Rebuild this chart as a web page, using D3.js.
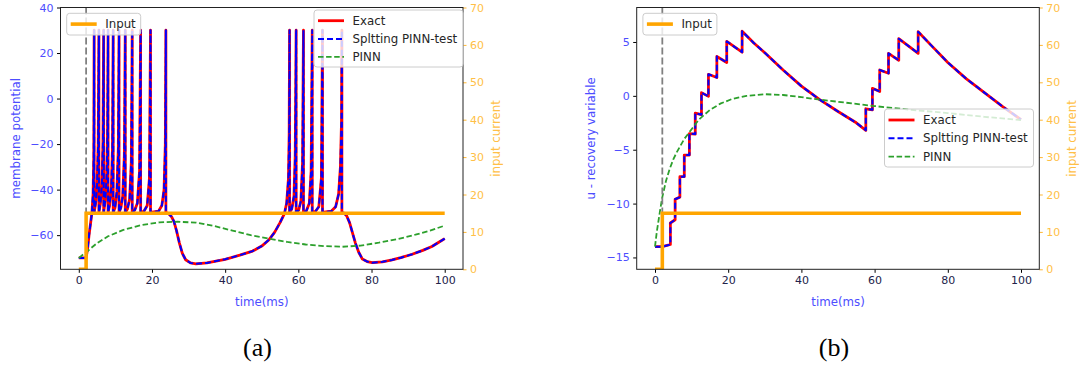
<!DOCTYPE html>
<html>
<head>
<meta charset="utf-8">
<script src="https://cdn.jsdelivr.net/npm/d3@7"></script>
<style>
  body { margin: 0; background: #fff; }
  svg { display: block; }
  text { font-family: "DejaVu Sans", sans-serif; }
</style>
</head>
<body>
<div id="chart"></div>
<script>
// ---- data ----
const xTicks = [0, 20, 40, 60, 80, 100];
const vTicks = [-60, -40, -20, 0, 20, 40];
const uTicks = [-15, -10, -5, 0, 5];
const iTicks = [0, 10, 20, 30, 40, 50, 60, 70];
const stimOnset = 2;
const inputCurrent = [[0, 0], [2, 0], [2, 15], [100, 15]];

// membrane potential, exact solution [t, v]
const vExact = [
  [0,-70],[2.0,-70],[2.4,-66],[2.8,-60],[3.2,-55],[3.6,-50],[3.9,-42],[4.1,-25],[4.2,30],[4.2,-50],
  [4.6,-46],[5.0,-38],[5.3,-20],[5.5,30],[5.5,-50],
  [5.9,-46],[6.3,-38],[6.6,-20],[6.8,30],[6.8,-50],
  [7.2,-45],[7.6,-35],[7.85,-15],[8.0,30],[8.0,-50],
  [8.4,-47],[8.9,-39],[9.2,-22],[9.4,30],[9.4,-50],
  [9.9,-48],[10.4,-41],[10.8,-22],[11.0,30],[11.0,-50],
  [11.5,-48],[12.0,-43],[12.45,-25],[12.7,30],[12.7,-50],
  [13.3,-48.5],[13.9,-44],[14.35,-28],[14.6,30],[14.6,-50],
  [15.3,-49],[16.0,-46],[16.6,-32],[16.9,30],[16.9,-50],
  [17.8,-49.5],[18.7,-47],[19.3,-35],[19.6,30],[19.6,-50],
  [20.5,-49.8],[21.8,-49.5],[22.7,-47],[23.3,-40],[23.65,-20],[23.8,30],[23.8,-50],
  [24.5,-50.5],[25.3,-51.8],[26.0,-54],[26.7,-58],[27.5,-63.5],[28.3,-68],[29.2,-70.8],[30.5,-72.2],
  [32,-72.6],[35,-72.2],[40,-70.6],[44,-68.8],[47.5,-67],[50,-64.8],[52,-62],[53.5,-58.8],[55,-54.5],[56.2,-50.5],
  [56.8,-46],[57.3,-35],[57.5,-15],[57.6,30],[57.6,-50],
  [58.2,-48.5],[58.8,-43],[59.15,-25],[59.4,30],[59.4,-50],
  [60.1,-49],[60.7,-45],[61.15,-28],[61.4,30],[61.4,-50],
  [62.2,-49.3],[63.0,-46],[63.5,-32],[63.8,30],[63.8,-50],
  [64.7,-49.5],[65.6,-47.5],[66.3,-35],[66.6,30],[66.6,-50],
  [67.5,-49.8],[69,-49.5],[70.2,-47.5],[71.0,-42],[71.5,-30],[71.8,-10],[71.9,30],[71.9,-50],
  [72.5,-50.3],[73.2,-51.5],[74.0,-54.5],[74.8,-59],[75.6,-63.5],[76.5,-67.5],[77.5,-70.5],[78.8,-71.6],
  [80.2,-72.1],[83,-71.7],[85.6,-70.9],[88,-69.9],[91.1,-68.4],[94,-66.7],[96.5,-65],[98.5,-63],[100,-61.5]
];
// splitting PINN prediction lies on top of the exact curve
const vSplit = vExact;
const vPinn = [
  [0,-70],[2,-67.5],[5,-63.5],[8,-60.5],[12,-57.8],[17,-55.6],[22,-54.4],[27,-54.1],[32,-54.5],
  [37,-56],[42,-58],[47,-60],[52,-61.5],[57,-63],[62,-64.1],[67,-64.8],[72,-65.1],[77,-64.6],
  [82,-63.3],[87,-61.8],[92,-59.8],[96,-58],[100,-55.8]
];

// recovery variable u [t, u]
const uExact = [
  [0,-14],[2,-14],[4.2,-13.8],[4.2,-11.8],[5.5,-11.5],[5.5,-9.6],[6.8,-9.4],[6.8,-7.5],[8.0,-7.5],[8.0,-5.5],
  [9.4,-5.5],[9.4,-3.5],[11.0,-3.55],[11.0,-1.6],[12.7,-1.75],[12.7,0.3],[14.6,-0.05],[14.6,2.0],
  [16.9,1.7],[16.9,3.65],[19.6,3.1],[19.6,5.05],[23.8,4.05],[23.8,6.0],
  [27,4.9],[30,4.0],[35,2.4],[40,0.9],[45,-0.35],[50,-1.45],[55,-2.5],[57.6,-3.2],[57.6,-1.2],
  [59.4,-1.3],[59.4,0.7],[61.4,0.4],[61.4,2.4],[63.8,2.1],[63.8,3.95],[66.6,3.3],[66.6,5.3],
  [71.9,3.95],[71.9,5.95],[76,4.5],[80,3.1],[85,1.6],[90,0.3],[95,-1.0],[100,-2.2]
];
const uSplit = uExact;
const uPinn = [
  [0,-14],[0.5,-12.6],[1,-11.5],[1.5,-10.4],[2,-9.4],[3,-7.9],[4,-6.8],[5,-5.9],[6,-5.2],[8,-4.0],
  [10,-3.1],[12,-2.2],[15,-1.3],[18,-0.7],[21,-0.3],[25,0.0],[30,0.15],[35,0.08],[40,-0.12],
  [45,-0.35],[50,-0.55],[60,-0.95],[70,-1.3],[80,-1.6],[90,-1.95],[100,-2.25]
];

const mainLabels = ["Exact", "Spltting PINN-test", "PINN"];

// ---- styles ----
const BLUE_TXT = "#4d4dff", ORANGE_TXT = "#ffbf47", XTICK_TXT = "#22224a";
const styles = [
  {color: "#ff0000", width: 2.8, dash: null},
  {color: "#0000ff", width: 2.0, dash: "6,3"},
  {color: "#2ca02c", width: 1.8, dash: "5.5,2.6"}
];

const svg = d3.select("#chart").append("svg")
  .attr("width", 1081).attr("height", 367);

function legend(g, box, rows) {
  const lg = g.append("g");
  lg.append("rect")
    .attr("x", box.x).attr("y", box.y).attr("width", box.w).attr("height", box.h)
    .attr("rx", 3).attr("fill", "#fff").attr("fill-opacity", 0.8)
    .attr("stroke", "#cccccc").attr("stroke-width", 1);
  rows.forEach((r, i) => {
    const yy = box.y + box.rowY[i];
    lg.append("line")
      .attr("x1", box.x + 4).attr("x2", box.x + 30).attr("y1", yy).attr("y2", yy)
      .attr("stroke", r.color).attr("stroke-width", r.width)
      .attr("stroke-dasharray", r.dash);
    lg.append("text")
      .attr("x", box.x + 38.5).attr("y", yy).attr("dy", "0.35em")
      .attr("font-size", 11.8).attr("fill", "#262626").text(r.label);
  });
}

function panel(p) {
  const g = svg.append("g");
  const x = d3.scaleLinear().domain([-5, 105]).range([p.left, p.right]);
  const y = d3.scaleLinear().domain(p.yDomain).range([p.bottom, p.top]);
  const y2 = d3.scaleLinear().domain([0, 70]).range([p.bottom, p.top]);

  const clipId = "clip-" + p.id;
  g.append("clipPath").attr("id", clipId).append("rect")
    .attr("x", p.left).attr("y", p.top)
    .attr("width", p.right - p.left).attr("height", p.bottom - p.top);

  const plot = g.append("g").attr("clip-path", `url(#${clipId})`);
  const line = d3.line().x(d => x(d[0])).y(d => y(d[1]));
  const line2 = d3.line().x(d => x(d[0])).y(d => y2(d[1]));

  [p.exact, p.split, p.pinn].forEach((s, i) => {
    plot.append("path").datum(s)
      .attr("d", line).attr("fill", "none")
      .attr("stroke", styles[i].color).attr("stroke-width", styles[i].width)
      .attr("stroke-dasharray", styles[i].dash)
      .attr("stroke-linejoin", "round");
  });

  // stimulus onset
  plot.append("line")
    .attr("x1", x(stimOnset)).attr("x2", x(stimOnset))
    .attr("y1", p.top).attr("y2", p.bottom)
    .attr("stroke", "#808080").attr("stroke-width", 1.8).attr("stroke-dasharray", "7,3");

  // input current on twin axis
  plot.append("path").datum(inputCurrent)
    .attr("d", line2).attr("fill", "none")
    .attr("stroke", "#ffa500").attr("stroke-width", 3.6);

  // axes
  const ax = g.append("g").attr("transform", `translate(0,${p.bottom})`)
    .call(d3.axisBottom(x).tickValues(xTicks).tickSize(3.5).tickPadding(3.5));
  ax.selectAll("text").attr("fill", XTICK_TXT).attr("font-size", 11);

  const ay = g.append("g").attr("transform", `translate(${p.left},0)`)
    .call(d3.axisLeft(y).tickValues(p.yTicks).tickSize(3.5).tickPadding(3.5));
  ay.selectAll("text").attr("fill", BLUE_TXT).attr("font-size", 11);

  const ay2 = g.append("g").attr("transform", `translate(${p.right},0)`)
    .call(d3.axisRight(y2).tickValues(iTicks).tickSize(3.5).tickPadding(3.5));
  ay2.selectAll("text").attr("fill", ORANGE_TXT).attr("font-size", 11);
  ay2.selectAll("line").attr("stroke", "#ffb733");

  [ax, ay, ay2].forEach(a => a.select(".domain").remove());

  g.append("rect")
    .attr("x", p.left).attr("y", p.top)
    .attr("width", p.right - p.left).attr("height", p.bottom - p.top)
    .attr("fill", "none").attr("stroke", "#222").attr("stroke-width", 1);

  // axis labels
  g.append("text")
    .attr("transform", `translate(${p.leftLabelX},${(p.top + p.bottom) / 2}) rotate(-90)`)
    .attr("text-anchor", "middle").attr("dy", "0.35em")
    .attr("font-size", 11.8).attr("fill", BLUE_TXT).text(p.yLabel);
  g.append("text")
    .attr("transform", `translate(${p.right + 33},${(p.top + p.bottom) / 2}) rotate(-90)`)
    .attr("text-anchor", "middle").attr("dy", "0.35em")
    .attr("font-size", 11.8).attr("fill", ORANGE_TXT).text("input current");
  g.append("text")
    .attr("x", (p.left + p.right) / 2).attr("y", 302).attr("dy", "0.35em")
    .attr("text-anchor", "middle").attr("font-size", 11.8).attr("fill", BLUE_TXT)
    .text("time(ms)");

  // legends
  legend(g, {x: p.left + 6.2, y: 13.3, w: 74, h: 21.7, rowY: [10.8]},
    [{label: "Input", color: "#ffa500", width: 3.6, dash: null}]);
  legend(g, p.legendBox, mainLabels.map((l, i) => ({label: l, ...styles[i]})));

  // caption
  svg.append("text")
    .attr("x", p.captionX).attr("y", 356)
    .attr("text-anchor", "middle")
    .style("font-family", "'Liberation Serif', serif").attr("font-size", 26)
    .attr("fill", "#000").text(p.caption);
}

panel({
  id: "a", left: 60.5, right: 463, top: 7.5, bottom: 269.3,
  yDomain: [-75, 40], yTicks: vTicks, yLabel: "membrane potential", leftLabelX: 16,
  exact: vExact, split: vSplit, pinn: vPinn,
  legendBox: {x: 314, y: 10, w: 149, h: 57, rowY: [10.7, 29, 46.8]},
  caption: "(a)", captionX: 257.5
});

panel({
  id: "b", left: 636.7, right: 1039.3, top: 7.5, bottom: 269.3,
  yDomain: [-16.1, 8.2], yTicks: uTicks, yLabel: "u - recovery variable", leftLabelX: 591,
  exact: uExact, split: uSplit, pinn: uPinn,
  legendBox: {x: 884.5, y: 109, w: 149, h: 58, rowY: [11, 29.3, 47.7]},
  caption: "(b)", captionX: 834
});
</script>
</body>
</html>
